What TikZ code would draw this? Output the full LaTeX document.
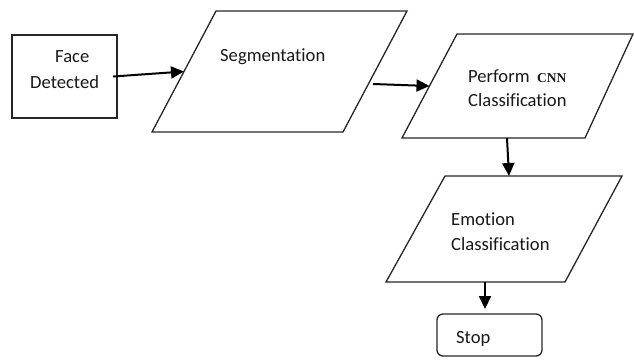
\documentclass[tikz,border=0pt]{standalone}
\usepackage{fontspec}
\setmainfont[Ligatures=NoCommon]{Carlito}
\newfontfamily\cnnfont{Liberation Serif}
\usetikzlibrary{arrows.meta,calc}
\begin{document}
\begin{tikzpicture}[x=1pt,y=-1pt,
  shapeline/.style={draw=black!85, line width=1.3pt, line join=miter},
  boxa/.style={shapeline, rectangle, inner sep=0pt, outer sep=0pt},
  txt/.style={anchor=base west, inner sep=0pt, font=\fontsize{18.6}{22}\selectfont, text=black!90},
  arr/.style={line width=2pt, -{Triangle[length=13pt,width=12pt]}}]
\useasboundingbox (0,0) rectangle (634,360);
% corner points of the parallelograms
\coordinate (segBL) at (152,132); \coordinate (segBR) at (343,132);
\coordinate (segTR) at (407,11);  \coordinate (segTL) at (216,11);
\coordinate (cnnBL) at (402,138); \coordinate (cnnBR) at (585,138);
\coordinate (cnnTR) at (633,34);  \coordinate (cnnTL) at (457,34);
\coordinate (emoBL) at (386,282); \coordinate (emoBR) at (565,282);
\coordinate (emoTR) at (622,176); \coordinate (emoTL) at (445,176);
% shapes
\node[boxa, minimum width=105pt, minimum height=83pt] (face) at (64.5,76.5) {};
\draw[shapeline] (segBL) -- (segBR) -- (segTR) -- (segTL) -- cycle;
\draw[shapeline] (cnnBL) -- (cnnBR) -- (cnnTR) -- (cnnTL) -- cycle;
\draw[shapeline] (emoBL) -- (emoBR) -- (emoTR) -- (emoTL) -- cycle;
\node[boxa, rounded corners=6pt, minimum width=105pt, minimum height=42pt] (stop) at (489.5,335) {};
% texts
\node[txt] (t1) at (55,62) {Face};
\node[txt] (t2) at (30,88) {Detected};
\node[txt] (t3) at (220,61) {Segmentation};
\node[txt] (t4) at (468,82) {Perform};
\node[txt, font=\cnnfont\bfseries\fontsize{13.5}{16}\selectfont] (t5) at (537,82) {CNN};
\node[txt] (t6) at (468,106) {Classification};
\node[txt] (t7) at (451,225) {Emotion};
\node[txt] (t8) at (451,250) {Classification};
\node[txt] (t9) at (456,343) {Stop};
% connection points
\coordinate (segW) at ($(segBL)!0.5!(segTL)$);
\coordinate (cnnW) at ($(cnnBL)!0.5!(cnnTL)$);
\coordinate (segE) at (373,84);
\coordinate (cnnS) at (507,138);
\coordinate (emoN) at (509,176);
\coordinate (emoS) at (485,282);
\coordinate (stopN) at (stop.north -| emoS);
% connectors
\draw[arr] ([xshift=-4pt]face.east) -- (segW);
\draw[arr] (segE) -- (cnnW);
\draw[arr] (cnnS) -- (emoN);
\draw[arr, shorten >=5pt] (emoS) -- (stopN);
\end{tikzpicture}
\end{document}
